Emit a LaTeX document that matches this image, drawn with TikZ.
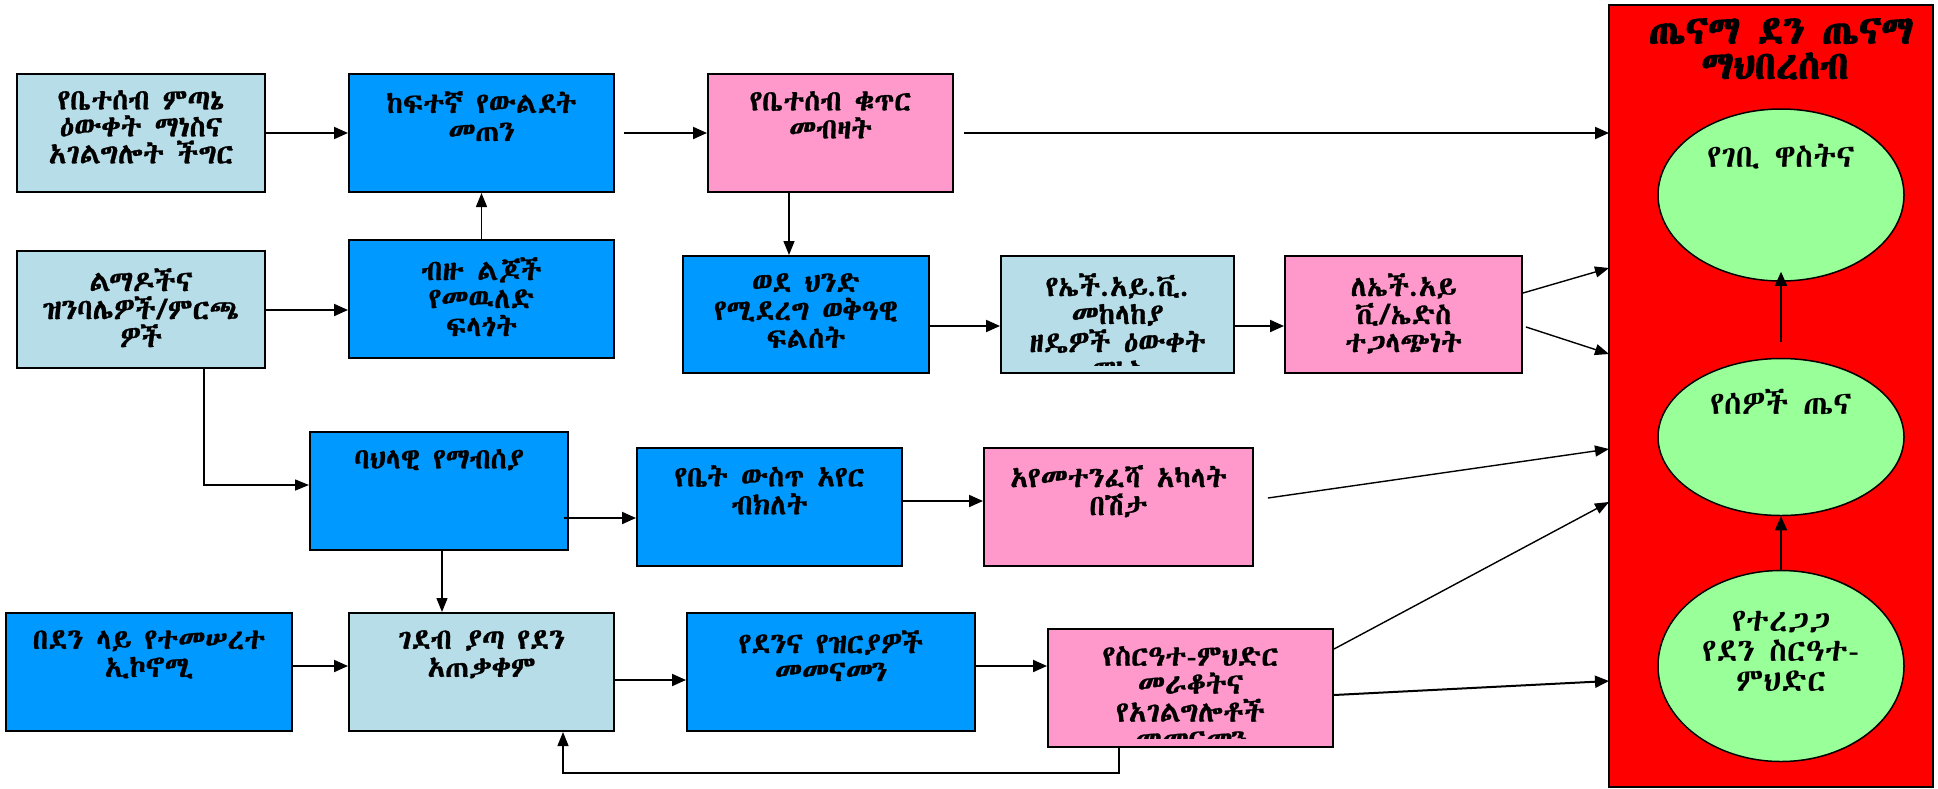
\documentclass[tikz,border=0pt]{standalone}
\usepackage{fontspec}
\usetikzlibrary{arrows.meta,shapes.geometric}
\IfFontExistsTF{Abyssinica SIL}{%
  \newfontfamily\eth[FakeBold=1]{Abyssinica SIL}\newfontfamily\ethe{Abyssinica SIL}\newfontfamily\ethb[FakeBold=3]{Abyssinica SIL}}{%
 \IfFontExistsTF{FreeSerif.otf}{%
  \newfontfamily\eth[FakeBold=1]{FreeSerif.otf}\newfontfamily\ethe{FreeSerif.otf}\newfontfamily\ethb[FakeBold=1]{FreeSerifBold.otf}}{%
  \IfFontExistsTF{Noto Sans Ethiopic}{%
   \newfontfamily\eth[FakeBold=1]{Noto Sans Ethiopic}\newfontfamily\ethe{Noto Sans Ethiopic}\newfontfamily\ethb[FakeBold=3]{Noto Sans Ethiopic}}{%
   \newfontfamily\eth{DejaVu Sans}\newfontfamily\ethe{DejaVu Sans}\newfontfamily\ethb{DejaVu Sans}}}}
\definecolor{cblue}{RGB}{0,153,255}
\definecolor{clight}{RGB}{183,221,232}
\definecolor{cpink}{RGB}{255,153,204}
\definecolor{cred}{RGB}{255,0,0}
\definecolor{cgreen}{RGB}{153,255,153}
\tikzset{
  box/.style={draw=black, line width=2pt, rectangle, inner sep=0pt},
  txt/.style={font=\eth\fontsize{29}{28}\selectfont, align=center, inner sep=0pt, anchor=north},
  etxt/.style={font=\ethe\fontsize{32}{30}\selectfont, align=center, inner sep=0pt},
  ttl/.style={font=\ethb\fontsize{39}{39}\selectfont, inner sep=0pt},
  ell/.style={draw=black, line width=1.5pt, ellipse, fill=cgreen, inner sep=0pt},
  arr/.style={line width=2pt, -{Triangle[length=14pt,width=12pt]}},
  thin/.style={line width=1.4pt, -{Triangle[length=14pt,width=11pt]}}
}
\begin{document}
\begin{tikzpicture}[x=1pt,y=-1pt]
\useasboundingbox (0,0) rectangle (1938,788);
\fill[white] (0,0) rectangle (1938,788);

% right panel
\node[draw=black, line width=1.5pt, fill=cred, minimum width=324pt, minimum height=782pt, inner sep=0pt] (P) at (1771,396) {};
\node[ttl] (Pt1) at (1781,31) {ጤናማ ደን ጤናማ};
\node[ttl] (Pt2) at (1775,66) {ማህበረሰብ};
\node[ell, minimum width=246pt, minimum height=172pt] (E1) at (1781,195) {};
\node[ell, minimum width=246pt, minimum height=157pt] (E2) at (1781,437) {};
\node[ell, minimum width=246pt, minimum height=191pt] (E3) at (1781,666) {};
\node[etxt] (E1t) at (1781,157) {የገቢ ዋስትና};
\node[etxt] (E2t) at (1781,402) {የሰዎች ጤና};
\node[etxt] (E3t) at (1781,651) {የተረጋጋ\\የደን ስርዓተ-\\ምህድር};
\draw[arr] ([yshift=16pt]E2.north) -- ([yshift=10pt]E1.south);
\draw[arr] (E3.north) -- (E2.south);

\coordinate (p1) at (1609,133);
\coordinate (p2) at (1609,268);
\coordinate (p3) at (1609,354);
\coordinate (p4) at (1609,449);
\coordinate (p5) at (1609,502);
\coordinate (p6) at (1609,681);

% boxes
\node[box, fill=clight, minimum width=248pt, minimum height=118pt] (A) at (141,133) {};
\node[box, fill=cblue,  minimum width=265pt, minimum height=118pt] (B) at (481.5,133) {};
\node[box, fill=cpink,  minimum width=245pt, minimum height=118pt] (C) at (830.5,133) {};
\node[box, fill=clight, minimum width=248pt, minimum height=117pt] (D) at (141,309.5) {};
\node[box, fill=cblue,  minimum width=265pt, minimum height=118pt] (E) at (481.5,299) {};
\node[box, fill=cblue,  minimum width=246pt, minimum height=117pt] (F) at (806,314.5) {};
\node[box, fill=clight, minimum width=233pt, minimum height=117pt] (G) at (1117.5,314.5) {};
\node[box, fill=cpink,  minimum width=237pt, minimum height=117pt] (H) at (1403.5,314.5) {};
\node[box, fill=cblue,  minimum width=258pt, minimum height=118pt] (I) at (439,491) {};
\node[box, fill=cblue,  minimum width=265pt, minimum height=118pt] (J) at (769.5,507) {};
\node[box, fill=cpink,  minimum width=269pt, minimum height=118pt] (K) at (1118.5,507) {};
\node[box, fill=cblue,  minimum width=286pt, minimum height=118pt] (L) at (149,672) {};
\node[box, fill=clight, minimum width=265pt, minimum height=118pt] (M) at (481.5,672) {};
\node[box, fill=cblue,  minimum width=288pt, minimum height=118pt] (N) at (831,672) {};
\node[box, fill=cpink,  minimum width=285pt, minimum height=118pt] (O) at (1190.5,688) {};

% texts
\node[txt, font=\eth\fontsize{29}{27}\selectfont] (At) at ([yshift=-17pt]A.north) {የቤተሰብ ምጣኔ\\ዕውቀት ማነስና\\አገልግሎት ችግር};
\node[txt] (Bt) at ([yshift=-18pt]B.north) {ከፍተኛ የውልደት\\መጠን};
\node[txt] (Ct) at ([yshift=-18pt]C.north) {የቤተሰብ ቁጥር\\መብዛት};
\node[txt] (Dt) at ([yshift=-18pt]D.north) {ልማዶችና\\ዝንባሌዎች/ምርጫ\\ዎች};
\node[txt] (Et) at ([yshift=-18pt]E.north) {ብዙ ልጆች\\የመዉለድ\\ፍላጎት};
\node[txt] (Ft) at ([yshift=-18pt]F.north) {ወደ ህንድ\\የሚደረግ ወቅዓዊ\\ፍልሰት};
\begin{scope}
\clip ([shift={(1pt,-1pt)}]G.north west) rectangle ([shift={(-1pt,9pt)}]G.south east);
\node[txt] (Gt) at ([yshift=-18pt]G.north) {የኤች.አይ.ቪ.\\መከላከያ\\ዘዴዎች ዕውቀት\\ማነስ};
\end{scope}
\node[txt] (Ht) at ([yshift=-18pt]H.north) {ለኤች.አይ\\ቪ/ኤድስ\\ተጋላጭነት};
\node[txt] (It) at ([yshift=-18pt]I.north) {ባህላዊ የማብሰያ};
\node[txt] (Jt) at ([yshift=-18pt]J.north) {የቤት ውስጥ አየር\\ብክለት};
\node[txt] (Kt) at ([yshift=-18pt]K.north) {አየመተንፈሻ አካላት\\በሽታ};
\node[txt] (Lt) at ([yshift=-18pt]L.north) {በደን ላይ የተመሠረተ\\ኢኮኖሚ};
\node[txt] (Mt) at ([yshift=-18pt]M.north) {ገደብ ያጣ የደን\\አጠቃቀም};
\node[txt] (Nt) at ([yshift=-18pt]N.north) {የደንና የዝርያዎች\\መመናመን};
\begin{scope}
\clip ([shift={(1pt,-1pt)}]O.north west) rectangle ([shift={(-1pt,10pt)}]O.south east);
\node[txt] (Ot) at ([yshift=-18pt]O.north) {የስርዓተ-ምህድር\\መራቆትና\\የአገልግሎቶች\\መመናመን};
\end{scope}

% connectors
\draw[arr] (A.east) -- (B.west);
\draw[arr, shorten <=9pt] (B.east) -- (C.west);
\draw[arr, shorten <=10pt] (C.east) -- (p1);
\draw[arr] (D.east |- 0,310) -- (E.west |- 0,310);
\draw[thin] (E.north) -- (B.south);
\draw[thin] (C.south -| 789,0) -- (F.north -| 789,0);
\draw[arr] (F.east |- 0,326) -- (G.west |- 0,326);
\draw[arr] (G.east |- 0,326) -- (H.west |- 0,326);
\draw[thin] (H.east |- 0,293) -- (p2);
\draw[thin, shorten <=3pt] (H.east |- 0,326) -- (p3);
\draw[thin] (D.south -| 204,0) |- (I.west |- 0,485);
\draw[arr, shorten <=-5pt] (I.east |- 0,518) -- (J.west |- 0,518);
\draw[arr] (J.east |- 0,501) -- (K.west |- 0,501);
\draw[thin, shorten <=14pt] (K.east |- 0,500) -- (p4);
\draw[thin] (I.south -| 442,0) -- (M.north -| 442,0);
\draw[arr] (L.east |- 0,666) -- (M.west |- 0,666);
\draw[arr] (M.east |- 0,680) -- (N.west |- 0,680);
\draw[arr] (N.east |- 0,666) -- (O.west |- 0,666);
\draw[thin] (O.east |- 0,649) -- (p5);
\draw[arr] (O.east |- 0,695) -- (p6);
\draw[thin] (O.south -| 1119,0) -- ++(0,25) -| (M.south -| 563,0);
\end{tikzpicture}
\end{document}
